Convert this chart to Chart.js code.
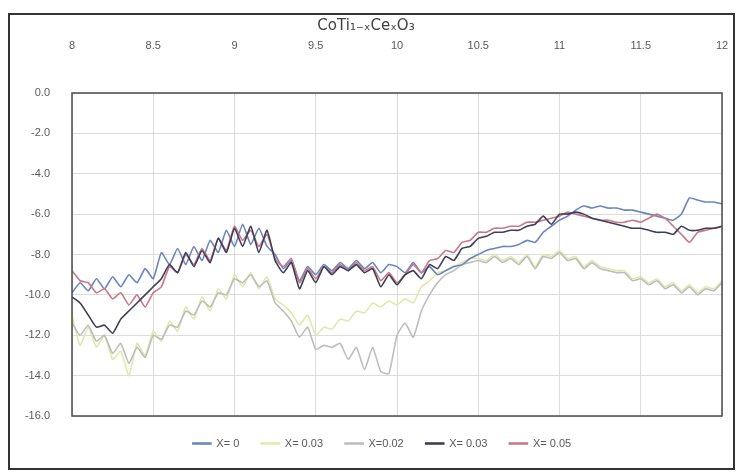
<!DOCTYPE html>
<html>
<head>
<meta charset="utf-8">
<script src="https://cdn.jsdelivr.net/npm/chart.js@4"></script>
<style>
  body { margin: 0; background: #fff; }
  #frame { position: absolute; left: 8px; top: 13px; width: 723px; height: 453px; border: 2px solid #333; }
  #wrap { position: absolute; left: 0; top: 0; width: 723px; height: 453px; }
</style>
</head>
<body>
<div id="frame"><div id="wrap"><canvas id="chart"></canvas></div></div>
<script>
// x positions (step 0.05)
var xs = [8.00,8.05,8.10,8.15,8.20,8.25,8.30,8.35,8.40,8.45,8.50,8.55,8.60,8.65,8.70,8.75,8.80,8.85,8.90,8.95,
  9.00,9.05,9.10,9.15,9.20,9.25,9.30,9.35,9.40,9.45,9.50,9.55,9.60,9.65,9.70,9.75,9.80,9.85,9.90,9.95,
  10.00,10.05,10.10,10.15,10.20,10.25,10.30,10.35,10.40,10.45,10.50,10.55,10.60,10.65,10.70,10.75,10.80,10.85,10.90,10.95,
  11.00,11.05,11.10,11.15,11.20,11.25,11.30,11.35,11.40,11.45,11.50,11.55,11.60,11.65,11.70,11.75,11.80,11.85,11.90,11.95,12.00];

var x0 = [-9.9,-9.4,-9.8,-9.2,-9.7,-9.1,-9.6,-9.0,-9.4,-8.7,-9.2,-7.9,-8.5,-7.7,-8.5,-7.6,-8.3,-7.3,-7.9,-6.8,
  -7.6,-6.5,-7.5,-6.7,-7.6,-8.0,-8.7,-8.3,-9.3,-8.6,-9.0,-8.5,-8.8,-8.4,-8.7,-8.3,-8.7,-8.4,-8.9,-8.5,
  -8.6,-8.9,-8.4,-8.9,-8.6,-9.0,-8.8,-8.6,-8.5,-8.2,-8.0,-7.8,-7.7,-7.6,-7.6,-7.5,-7.3,-7.4,-6.9,-6.6,
  -6.3,-6.1,-5.8,-5.6,-5.7,-5.6,-5.7,-5.7,-5.8,-5.8,-5.9,-6.0,-6.1,-6.2,-6.3,-6.0,-5.2,-5.3,-5.4,-5.4,-5.5];

var x003a = [-11.0,-12.5,-11.6,-12.6,-12.0,-13.2,-12.8,-14.0,-12.4,-13.0,-11.8,-12.3,-11.3,-11.8,-10.6,-11.2,-10.1,-10.8,-9.7,-10.2,
  -9.0,-9.6,-8.9,-9.7,-9.1,-10.2,-10.5,-10.9,-11.5,-11.0,-12.0,-11.6,-11.7,-11.2,-11.3,-10.8,-10.9,-10.4,-10.6,-10.3,
  -10.5,-10.2,-10.4,-9.6,-9.3,-8.9,-8.8,-8.6,-8.4,-8.2,-8.2,-8.3,-8.0,-8.3,-8.1,-8.4,-8.0,-8.6,-8.0,-8.1,
  -7.8,-8.2,-8.1,-8.6,-8.3,-8.6,-8.7,-8.8,-8.8,-9.2,-9.1,-9.4,-9.2,-9.6,-9.4,-9.8,-9.5,-9.9,-9.6,-9.7,-9.3];

var x002 = [-11.4,-12.0,-11.5,-12.3,-12.0,-12.9,-12.4,-13.4,-12.6,-13.1,-12.0,-12.2,-11.5,-11.6,-10.8,-11.0,-10.3,-10.6,-9.9,-10.0,
  -9.2,-9.4,-9.0,-9.6,-9.3,-10.4,-10.8,-11.3,-12.1,-11.6,-12.7,-12.5,-12.6,-12.4,-13.2,-12.6,-13.7,-12.6,-13.8,-13.9,
  -12.0,-11.4,-12.1,-10.8,-10.0,-9.4,-9.0,-8.8,-8.5,-8.4,-8.3,-8.4,-8.1,-8.4,-8.2,-8.5,-8.1,-8.7,-8.1,-8.2,
  -7.9,-8.3,-8.2,-8.7,-8.4,-8.7,-8.8,-8.9,-8.9,-9.3,-9.2,-9.5,-9.3,-9.7,-9.5,-9.9,-9.6,-10.0,-9.7,-9.8,-9.4];

var x003b = [-10.1,-10.4,-11.0,-11.6,-11.5,-11.9,-11.2,-10.8,-10.4,-10.0,-9.6,-9.2,-8.5,-8.9,-7.9,-8.6,-7.8,-8.4,-7.2,-7.9,
  -6.7,-7.6,-6.6,-7.9,-6.8,-8.3,-8.9,-8.4,-9.7,-8.8,-9.4,-8.6,-9.0,-8.6,-8.8,-8.5,-8.9,-8.7,-9.6,-9.0,
  -9.5,-9.0,-8.8,-9.2,-8.5,-8.7,-8.1,-8.3,-7.7,-7.6,-7.2,-7.1,-6.9,-6.9,-6.8,-6.8,-6.6,-6.5,-6.1,-6.5,
  -6.0,-6.0,-5.9,-6.0,-6.2,-6.3,-6.4,-6.5,-6.6,-6.7,-6.7,-6.8,-6.9,-6.9,-7.0,-6.6,-6.8,-6.8,-6.7,-6.7,-6.6];

var x005 = [-8.8,-9.3,-9.4,-9.9,-9.7,-10.2,-9.9,-10.5,-10.0,-10.6,-9.9,-9.6,-8.6,-8.9,-8.0,-8.5,-7.7,-8.3,-7.2,-7.8,
  -6.6,-7.3,-6.8,-7.6,-7.0,-8.2,-8.6,-8.2,-9.4,-8.7,-9.2,-8.6,-8.9,-8.5,-8.8,-8.4,-8.8,-8.6,-9.3,-8.9,
  -9.4,-9.0,-8.5,-8.9,-8.3,-8.2,-7.8,-7.9,-7.4,-7.3,-6.9,-6.9,-6.7,-6.7,-6.6,-6.6,-6.4,-6.4,-6.3,-6.2,
  -6.1,-5.9,-6.0,-6.1,-6.2,-6.3,-6.3,-6.4,-6.4,-6.3,-6.4,-6.2,-6.0,-6.2,-6.6,-7.0,-7.4,-6.9,-6.8,-6.7,-6.6];

var labels = ['X= 0', 'X= 0.03', 'X=0.02', 'X= 0.03', 'X= 0.05'];
var colors = ['#6a86bf', '#e1e9aa', '#bdbdbd', '#3e3e58', '#c97986'];
var series = [x0, x003a, x002, x003b, x005];
var drawOrder = [3, 5, 4, 1, 2];

function pts(ys) {
  return xs.map(function (x, i) { return { x: x, y: ys[i] }; });
}

var plotBox = {
  id: 'plotBox',
  afterLayout: function (chart) {
    // legend sits a bit right of centre in the original
    chart.legend.left += 16;
    chart.legend.right += 16;
  },
  afterDraw: function (chart) {
    var a = chart.chartArea, ctx = chart.ctx;
    ctx.save();
    ctx.strokeStyle = '#4a4a4a';
    ctx.lineWidth = 1.5;
    ctx.strokeRect(a.left, a.top, a.right - a.left, a.bottom - a.top);
    ctx.restore();
  }
};

var tickFont = { family: 'Liberation Sans, DejaVu Sans, sans-serif', size: 11 };

new Chart(document.getElementById('chart'), {
  type: 'line',
  data: {
    datasets: series.map(function (s, i) {
      return {
        label: labels[i],
        data: pts(s),
        borderColor: colors[i],
        backgroundColor: colors[i],
        borderWidth: 1.6,
        pointRadius: 0,
        tension: 0.15,
        fill: false,
        order: drawOrder[i]
      };
    })
  },
  options: {
    responsive: true,
    maintainAspectRatio: false,
    animation: false,
    layout: { padding: { left: 0, right: 11, top: 0, bottom: 9 } },
    plugins: {
      title: {
        display: true,
        text: 'CoTi\u2081\u208B\u2093Ce\u2093O\u2083',
        color: '#404040',
        font: { family: 'DejaVu Sans, Liberation Sans, sans-serif', size: 15, weight: 'normal' },
        padding: { top: 2, bottom: 2 }
      },
      legend: {
        position: 'bottom',
        labels: {
          boxWidth: 18,
          boxHeight: 1,
          padding: 22,
          color: '#595959',
          font: tickFont,
          sort: function (a, b) { return a.datasetIndex - b.datasetIndex; }
        }
      },
      tooltip: { enabled: false }
    },
    scales: {
      x: {
        type: 'linear',
        position: 'top',
        min: 8,
        max: 12,
        ticks: {
          stepSize: 0.5,
          color: '#595959',
          font: tickFont,
          padding: 40,
          callback: function (v) { return String(v); }
        },
        grid: { color: '#dcdcdc', drawTicks: false },
        border: { display: false },
        afterFit: function (scale) {
          scale.height = 56;
          scale.paddingLeft = 0;
          scale.paddingRight = 0;
        }
      },
      y: {
        min: -16,
        max: 0,
        ticks: {
          stepSize: 2,
          color: '#595959',
          font: tickFont,
          padding: 22,
          callback: function (v) { return v.toFixed(1); }
        },
        grid: { color: '#dcdcdc', drawTicks: false },
        border: { display: false },
        afterFit: function (scale) {
          scale.width = 62;
          scale.paddingTop = 0;
          scale.paddingBottom = 0;
        }
      }
    }
  },
  plugins: [plotBox]
});
</script>
</body>
</html>
